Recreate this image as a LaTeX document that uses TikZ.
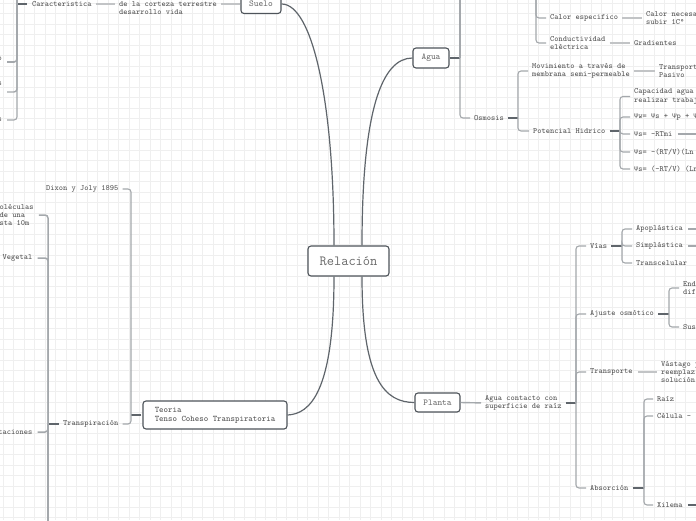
\documentclass[tikz,border=0pt]{standalone}
\usepackage{fontspec}
\newfontfamily\greekm{Liberation Mono}
\newcommand\PS{{\greekm\fontsize{7}{8}\selectfont Ψ}}
\definecolor{txt}{HTML}{505050}
\definecolor{boxc}{HTML}{4E545A}
\definecolor{dkc}{HTML}{5F656B}
\definecolor{ltc}{HTML}{C2C4C6}
\definecolor{trc}{HTML}{A4A8AC}
\definecolor{gridc}{HTML}{EFEFEF}
\tikzset{
  t/.style={font=\ttfamily\fontsize{8}{8.2}\selectfont, text=txt, inner sep=0pt, anchor=west, align=left},
  te/.style={t, anchor=east, align=right},
  box/.style={draw=boxc, line width=1.1pt, rounded corners=3pt, fill=white, text=txt!85,
     font=\ttfamily\fontsize{9}{9}\selectfont, inner sep=0pt},
  dk/.style={draw=dkc, line width=1.6pt},
  lt/.style={draw=ltc, line width=2pt},
  tr/.style={draw=trc, line width=1.1pt, rounded corners=3pt},
  curve/.style={draw=dkc, line width=1.2pt},
}
\begin{document}
\begin{tikzpicture}[x=1pt,y=-1pt]
\path[use as bounding box] (0,0) rectangle (696,520);
\clip (0,0) rectangle (696,520);
\fill[white] (0,0) rectangle (696,520);
\foreach \i in {0,...,67} {\draw[gridc, line width=0.6pt] (\i*10.5+3,0) -- (\i*10.5+3,520);}
\foreach \j in {0,...,50} {\draw[gridc, line width=0.6pt] (0,\j*10.5+3) -- (696,\j*10.5+3);}

% main nodes
\node[box, minimum width=81pt, minimum height=30pt, font=\ttfamily\fontsize{14}{16}\selectfont] (rel) at (348.5,261) {Relación};
\node[box, minimum width=40pt, minimum height=19pt] (suelo) at (261,4) {Suelo};
\node[box, minimum width=36pt, minimum height=20pt] (agua) at (431,58) {Agua};
\node[box, minimum width=45pt, minimum height=19pt] (planta) at (437.5,402.5) {Planta};
\node[box, minimum width=144pt, minimum height=28pt, align=left, text=txt,
      font=\ttfamily\fontsize{8.5}{9.2}\selectfont] (teoria) at (215,415) {Teoria\\Tenso Coheso Transpiratoria};

% curves
\draw[curve] ([xshift=-14.5pt]rel.north) .. controls (334,100) and (312,4) .. (suelo.east);
\draw[curve] ([xshift=13.5pt]rel.north) .. controls (362,110) and (382,58) .. (agua.west);
\draw[curve] ([xshift=13.5pt]rel.south) .. controls (362,380) and (385,402.5) .. (planta.west);
\draw[curve] ([xshift=-14.5pt]rel.south) .. controls (334,392) and (310,414) .. (teoria.east);

% Suelo branch
\node[t] (corteza) at (119,8) {de la corteza terrestre\\desarrollo vida};
\node[t] (carac) at (32,4) {Caracteristica};
\draw[lt, shorten >=4pt] (suelo.west) -- (suelo.west -| corteza.east);
\draw[lt, shorten >=4pt, shorten <=4pt] (carac.east) -- (carac.east -| corteza.west);
\coordinate (tc) at (17,4);
\coordinate (tctop) at (17,-30);
\coordinate (c1) at (7,62);
\coordinate (c2) at (7,92);
\coordinate (c3) at (7,120);
\draw[dk, shorten <=5pt] (carac.west) -- (tc);
\draw[tr, line width=1.6pt] (tctop) -- (tc);
\draw[tr, line width=1.6pt] (tc) |- (c1);
\draw[tr, line width=1.4pt] (tc) |- (c2);
\draw[tr] (tc) |- (c3);
\node[te] (f1) at (2,59) {o};
\node[te] (f2) at (2,83.5) {s};
\node[te] (f3) at (2,120) {s};

% Agua branch
\coordinate (ta) at (460,58);
\coordinate (tatop) at (460,-30);
\draw[dk] (agua.east) -- (ta);
\node[t] (osm) at (474,118) {Osmosis};
\draw[tr] (tatop) -- (ta);
\draw[tr, shorten >=4pt] (ta) |- (osm.west);
\coordinate (tb) at (536,-30);
\node[t] (calor) at (550,18) {Calor especifico};
\node[t] (cond) at (550,43) {Conductividad\\eléctrica};
\draw[tr, shorten >=4pt] (tb) |- (calor.west);
\draw[tr, shorten >=4pt] (tb) |- (cond.west);
\node[t] (calnec) at (646,18) {Calor necesa\\subir 1C°};
\node[t] (grad) at (634,43) {Gradientes};
\draw[lt, shorten >=4pt, shorten <=4pt] (calor.east) -- (calnec.west);
\draw[lt, shorten >=4pt, shorten <=4pt] (cond.east) -- (grad.west);

\coordinate (to) at (518,118);
\draw[dk, shorten <=4pt] (osm.east) -- (to);
\node[t] (mov) at (532,71) {Movimiento a través de\\membrana semi-permeable};
\node[t] (pot) at (533,131) {Potencial Hidrico};
\draw[tr, shorten >=4pt] (to) |- (mov.west);
\draw[tr, shorten >=4pt] (to) |- (pot.west);
\node[t] (transp) at (659,71) {Transport\\Pasivo};
\draw[lt, shorten >=4pt, shorten <=4pt] (mov.east) -- (transp.west);

\coordinate (tp) at (620,131);
\draw[dk, shorten <=4pt] (pot.east) -- (tp);
\node[t] (cap) at (634,96.5) {Capacidad agua\\realizar trabaj};
\node[t] (psiw) at (634,117) {\PS w= \PS s + \PS p + \PS};
\node[t] (psis1) at (634,134) {\PS s= -RTmi};
\node[t] (psis2) at (634,152) {\PS s= -(RT/V)(Ln};
\node[t] (psis3) at (634,169) {\PS s= (-RT/V) (Ln};
\foreach \n in {cap,psiw,psis1,psis2,psis3} {\draw[tr, shorten >=4pt] (tp) |- (\n.west);}
\coordinate (psiend) at (700,134);
\draw[tr, shorten <=5pt] (psis1.east) -- (psiend);

% Planta branch
\node[t] (acr) at (485,403) {Agua contacto con\\superficie de raíz};
\draw[tr, line width=1.4pt, shorten >=4pt] (planta.east) -- (acr.west);
\coordinate (tpl) at (576,403);
\draw[dk, shorten <=4pt] (acr.east) -- (tpl);
\node[t] (vias) at (590,246) {Vías};
\node[t] (ajo) at (590,314) {Ajuste osmótico};
\node[t] (trp) at (590,372) {Transporte};
\node[t] (abs) at (590,488) {Absorción};
\foreach \n in {vias,ajo,trp,abs} {\draw[tr, shorten >=4pt] (tpl) |- (\n.west);}

\coordinate (tv) at (622,246);
\draw[dk, shorten <=4pt] (vias.east) -- (tv);
\node[t] (apo) at (636,229) {Apoplástica};
\node[t] (sim) at (636,246) {Simplástica};
\node[t] (trc) at (636,263) {Transcelular};
\foreach \n in {apo,sim,trc} {\draw[tr, shorten >=4pt] (tv) |- (\n.west);}
\coordinate (apoend) at (700,229);
\coordinate (simend) at (700,246);
\draw[tr, shorten <=5pt] (apo.east) -- (apoend);
\draw[tr, shorten <=5pt] (sim.east) -- (simend);

\coordinate (tj) at (669,314);
\draw[dk, shorten <=4pt] (ajo.east) -- (tj);
\node[t] (endo) at (683,288) {End\\dif};
\node[t] (sus) at (683,327) {Sus};
\foreach \n in {endo,sus} {\draw[tr, shorten >=4pt] (tj) |- (\n.west);}

\node[t] (vast) at (661,372) {Vástago y\\reemplaz\\solución};
\draw[lt, shorten >=4pt, shorten <=5pt] (trp.east) -- (vast.west);

\coordinate (tab) at (644,488);
\draw[dk, shorten <=4pt] (abs.east) -- (tab);
\node[t] (raiz) at (657,399) {Raíz};
\node[t] (cel) at (657,416) {Célula - (};
\node[t] (xil) at (657,505) {Xilema};
\foreach \n in {raiz,cel,xil} {\draw[tr, shorten >=4pt] (tab) |- (\n.west);}
\coordinate (xilend) at (700,505);
\draw[dk, line width=2pt, shorten <=5pt] (xil.east) -- (xilend);

% Teoria branch
\coordinate (tt) at (131,415);
\draw[dk, shorten <=1pt] (teoria.west) -- (tt);
\node[t] (dixon) at (46,189) {Dixon y Joly 1895};
\node[t] (transpi) at (63,424) {Transpiración};
\draw[tr, shorten >=4pt] (tt) |- (dixon.east);
\draw[tr, shorten >=4pt] (tt) |- (transpi.east);

\coordinate (ttr) at (48,424);
\coordinate (ttrbot) at (48,540);
\draw[dk, shorten <=4pt] (transpi.west) -- (ttr);
\node[t] (olec) at (-0.6,215) {oléculas\\de una\\sta 10m};
\node[te] (veg) at (32.5,258) {Vegetal};
\node[te] (tac) at (32.5,432) {taciones};
\draw[tr, line width=1.5pt] (ttr) -- (ttrbot);
\foreach \n in {olec,veg,tac} {\draw[tr, line width=1.5pt, shorten >=5pt] (ttr) |- (\n.east);}
\end{tikzpicture}
\end{document}
